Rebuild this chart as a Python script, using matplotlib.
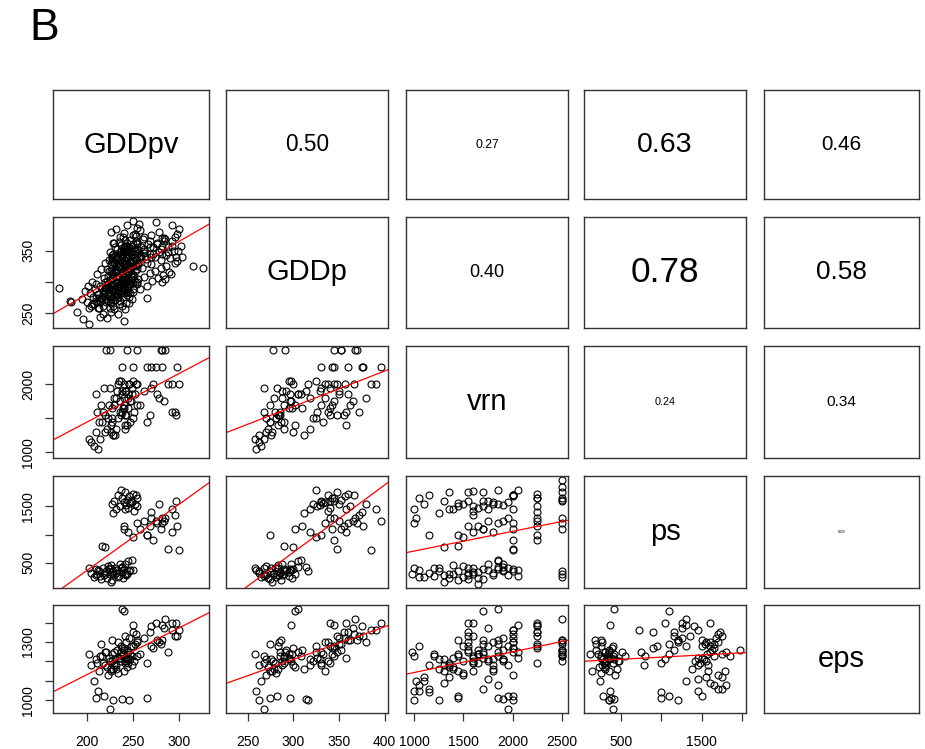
import numpy as np
import matplotlib.pyplot as plt

plt.rcParams['font.family'] = ['Liberation Sans', 'DejaVu Sans']

names = ['GDDpv', 'GDDp', 'vrn', 'ps', 'eps']

# lines with all five traits
gddpv = [205, 210, 213, 215, 218, 220, 222, 224, 225, 226,
         228, 230, 231, 233, 234, 236, 238, 240, 242, 245,
         208, 212, 216, 219, 223, 227, 229, 232, 235, 237,
         239, 241, 244, 247, 203, 211, 221, 226, 243, 249,
         228, 230, 232, 234, 236, 238, 240, 241, 243, 244,
         245, 246, 247, 248, 250, 251, 252, 254, 255, 229,
         237, 242, 249, 253, 270, 278, 285, 292, 296, 275,
         240, 245, 250, 255, 258, 262, 265, 268, 272, 276,
         280, 284, 288, 292, 298, 217, 220, 270, 282, 300,
         225, 210, 238, 246, 265, 238, 240, 250, 297, 282]
gddp = [262, 270, 275, 268, 280, 285, 272, 290, 278, 283,
        295, 288, 276, 292, 281, 297, 286, 300, 290, 305,
        265, 259, 274, 282, 270, 287, 262, 279, 295, 283,
        299, 288, 302, 296, 258, 268, 291, 277, 284, 308,
        322, 330, 318, 338, 326, 342, 335, 348, 329, 352,
        340, 356, 333, 345, 360, 338, 350, 344, 362, 312,
        325, 358, 330, 366, 375, 380, 368, 390, 372, 396,
        310, 318, 325, 335, 342, 350, 330, 355, 345, 360,
        352, 365, 348, 358, 376, 290, 300, 340, 370, 385,
        268, 296, 314, 316, 275, 305, 302, 298, 340, 345]
vrn = [1150, 1300, 1450, 1200, 1600, 1550, 1350, 1700, 2500, 1400,
       1650, 1800, 1250, 1900, 1500, 1750, 1600, 2000, 1350, 1850,
       1100, 1050, 1700, 1950, 1500, 1450, 1250, 1800, 2050, 1550,
       1650, 1900, 1400, 1750, 1200, 1600, 2500, 1300, 1550, 1850,
       1500, 1700, 1350, 2000, 1600, 2250, 1800, 1550, 1900, 2500,
       1650, 2000, 1450, 1750, 2250, 1600, 1850, 2500, 1700, 1250,
       2050, 1400, 1950, 2000, 2250, 1800, 2500, 2000, 1600, 2250,
       1650, 1800, 1500, 2000, 1700, 1900, 2250, 1550, 2000, 1850,
       2500, 1750, 2000, 1600, 2250, 1450, 1300, 1950, 2500, 2000,
       1950, 1850, 1900, 2000, 1450, 1850, 1700, 2050, 1550, 2250]
ps = [320, 280, 350, 260, 400, 310, 230, 380, 300, 450,
      340, 270, 410, 360, 250, 470, 330, 390, 290, 520,
      240, 370, 200, 280, 430, 180, 350, 310, 260, 400,
      220, 480, 300, 360, 410, 300, 350, 150, 270, 550,
      1550, 1600, 1450, 1700, 1500, 1650, 1580, 1750, 1520, 1620,
      1480, 1680, 1560, 1600, 1720, 1420, 1540, 1650, 1500, 1380,
      1800, 1450, 1580, 1700, 1400, 1550, 1300, 1450, 1350, 1250,
      1150, 1050, 950, 1200, 1100, 1250, 1000, 1150, 900, 1200,
      1100, 1250, 750, 1050, 1150, 800, 780, 1300, 1200, 720,
      400, 380, 420, 350, 1000, 420, 1100, 370, 1600, 1300]
eps = [1180, 1210, 1150, 1230, 1190, 1250, 1170, 1220, 1200, 1160,
       1240, 1180, 1210, 1260, 1140, 1200, 1230, 1270, 1190, 1250,
       1100, 1050, 1290, 1020, 1130, 1310, 1000, 1160, 1220, 1280,
       1240, 1200, 1170, 1210, 1240, 1190, 1250, 1150, 1300, 1230,
       1200, 1250, 1180, 1300, 1220, 1270, 1150, 1330, 1210, 1260,
       1190, 1320, 1240, 1280, 1350, 1200, 1290, 1230, 1310, 1160,
       1250, 1220, 1180, 1340, 1380, 1300, 1420, 1360, 1330, 1400,
       1260, 1210, 1280, 1300, 1240, 1320, 1190, 1350, 1270, 1310,
       1290, 1370, 1250, 1400, 1330, 1230, 1180, 1280, 1310, 1360,
       955, 1010, 1005, 1000, 1010, 1470, 1460, 1390, 1400, 1390]

# lines scored only for vrn, ps and eps
vrn_only = [1000, 1020, 1050, 1100, 1150, 980, 1000, 1050, 1000, 1150,
            1300, 1350, 1450, 1600, 1700, 1750, 1850, 2000, 2000, 2250,
            2250, 2500, 2500, 2500, 2500, 2250, 2500, 1900, 1550, 1650]
ps_only = [1450, 1300, 1650, 1550, 1700, 300, 400, 250, 1200, 1000,
           1600, 1750, 1500, 1780, 1750, 1450, 1800, 1700, 1100, 1650,
           1500, 1750, 1850, 1970, 1600, 900, 250, 350, 200, 120]
eps_only = [1050, 1100, 1080, 1120, 1060, 1250, 1230, 1280, 1000, 1040,
            1090, 1120, 1020, 1150, 1060, 1110, 1080, 1130, 1020, 1290,
            1280, 1240, 1230, 1260, 1300, 1350, 1310, 1210, 1260, 1240]

# lines scored only for the two GDD traits
gddpv_only = [215, 218, 220, 222, 224, 226, 228, 230, 232, 234,
              236, 238, 240, 242, 244, 246, 248, 250, 252, 254,
              227, 229, 231, 233, 235, 237, 239, 241, 243, 245,
              247, 249, 251, 253, 255, 257, 259, 261, 263, 230,
              212, 214, 217, 219, 221, 223, 225, 227, 229, 231,
              233, 235, 237, 239, 241, 243, 245, 247, 249, 251,
              234, 236, 238, 240, 242, 244, 246, 248, 250, 252,
              256, 258, 260, 262, 264, 266, 268, 270, 272, 274,
              276, 278, 280, 282, 284, 286, 288, 290, 292, 294,
              206, 209, 211, 213, 216, 218, 220, 222, 224, 226,
              228, 230, 232, 234, 236, 238, 240, 242, 244, 246,
              226, 232, 240, 244, 250, 236, 258, 262, 268, 254,
              195, 198, 200, 202, 204, 207, 255, 258, 262, 265,
              268, 271, 274, 277, 280, 283, 286, 289, 298, 302,
              170, 182, 183, 190, 196, 215, 206, 210, 253, 239,
              250, 257, 315, 326, 299, 303, 296, 285, 281, 291,
              203, 240,
              221, 223, 225, 227, 229, 231, 233, 235, 237, 239,
              241, 243, 245, 247, 249, 222, 224, 226, 228, 230,
              232, 234, 236, 238, 240, 242, 244, 246, 248, 250,
              218, 220, 222, 224, 226, 228, 230, 232, 234, 236,
              238, 240, 242, 244, 246, 248, 250, 252, 254, 256,
              225, 227, 229, 231, 233, 235, 237, 239, 241, 243,
              245, 247, 249, 251, 253, 255, 223, 226, 229, 232,
              235, 238, 241, 244, 247, 250, 253, 256, 259, 262]
gddp_only = [270, 262, 290, 301, 284, 266, 295, 279, 308, 287,
             270, 299, 283, 312, 291, 276, 304, 289, 318, 296,
             332, 345, 356, 338, 364, 349, 371, 335, 358, 344,
             367, 352, 339, 373, 361, 347, 356, 369, 342, 362,
             281, 293, 275, 306, 268, 297, 259, 312, 286, 271,
             300, 264, 291, 276, 305, 267, 284, 297, 273, 309,
             325, 340, 318, 352, 330, 362, 321, 347, 334, 376,
             329, 341, 322, 353, 337, 360, 345, 328, 355, 340,
             362, 348, 335, 358, 370, 343, 356, 338, 365, 350,
             300, 288, 312, 258, 321, 248, 330, 243, 318, 252,
             340, 256, 327, 249, 345, 261, 327, 257, 338, 266,
             380, 385, 378, 390, 375, 372, 383, 372, 366, 386,
             272, 285, 268, 293, 282, 276, 300, 289, 308, 293,
             314, 301, 318, 306, 322, 311, 326, 316, 333, 358,
             290, 269, 268, 252, 241, 244, 265, 274, 327, 343,
             397, 392, 325, 322, 350, 340, 330, 305, 300, 312,
             233, 237,
             292, 281, 303, 288, 297, 279, 310, 294, 283, 301,
             287, 305, 293, 282, 299, 320, 335, 328, 343, 316,
             338, 324, 347, 331, 355, 322, 340, 327, 349, 333,
             285, 277, 296, 289, 272, 306, 282, 298, 276, 293,
             311, 288, 302, 279, 295, 313, 284, 300, 321, 305,
             348, 336, 362, 341, 353, 330, 359, 344, 367, 338,
             351, 332, 357, 345, 326, 352, 310, 318, 306, 315,
             325, 313, 329, 317, 322, 311, 336, 328, 340, 346]

# correlations printed in the upper panels
cor_pairs = [(0, 1), (0, 2), (0, 3), (0, 4), (1, 2),
             (1, 3), (1, 4), (2, 3), (2, 4), (3, 4)]
cor_values = [0.50, 0.27, 0.63, 0.46, 0.40, 0.78, 0.58, 0.24, 0.34, 0.09]

xticks = {0: [200, 250, 300], 1: [250, 300, 350, 400],
          2: [1000, 1500, 2000, 2500], 3: [500, 1000, 1500, 2000]}
xlabels = {0: ['200', '250', '300'], 1: ['250', '300', '350', '400'],
           2: ['1000', '1500', '2000', '2500'], 3: ['500', '', '1500', '']}
yticks = {1: [250, 300, 350], 2: [1000, 1500, 2000],
          3: [500, 1000, 1500], 4: [1000, 1100, 1200, 1300, 1400]}
ylabels = {1: ['250', '', '350'], 2: ['1000', '', '2000'],
           3: ['500', '', '1500'], 4: ['1000', '', '', '1300', '']}

nan = lambda n: np.full(n, np.nan)
n_v, n_g = len(vrn_only), len(gddpv_only)
data = [
    np.concatenate([gddpv, nan(n_v), gddpv_only]),
    np.concatenate([gddp, nan(n_v), gddp_only]),
    np.concatenate([vrn, vrn_only, nan(n_g)]),
    np.concatenate([ps, ps_only, nan(n_g)]),
    np.concatenate([eps, eps_only, nan(n_g)]),
]

lims = []
for v in data:
    lo, hi = np.nanmin(v), np.nanmax(v)
    pad = 0.04 * (hi - lo)
    lims.append((lo - pad, hi + pad))

W, H = 925, 749
fig = plt.figure(figsize=(W / 100, H / 100), dpi=100)
col_px = [(53, 209), (226, 388), (406, 568), (584, 746), (764, 919)]
row_px = [(90, 199), (217, 328), (346, 458), (476, 588), (605, 713)]

cor_lookup = dict(zip(cor_pairs, cor_values))

for i in range(5):
    for j in range(5):
        x0, x1 = col_px[j]
        y0, y1 = row_px[i]
        ax = fig.add_axes([x0 / W, 1 - y1 / H, (x1 - x0) / W, (y1 - y0) / H])
        for s in ax.spines.values():
            s.set_color('#333333')
            s.set_linewidth(1.0)
        ax.set_xticks([])
        ax.set_yticks([])
        if i == j:
            ax.set_xlim(0, 1)
            ax.set_ylim(0, 1)
            ax.text(0.5, 0.5, names[i], ha='center', va='center', fontsize=21)
            continue
        if i < j:
            r = cor_lookup[(i, j)]
            ax.set_xlim(0, 1)
            ax.set_ylim(0, 1)
            ax.text(0.5, 0.5, f'{r:.2f}', ha='center', va='center',
                    fontsize=32.5 * r)
            continue
        # lower panels: scatter plus least squares line
        x, y = data[j], data[i]
        ok = ~np.isnan(x) & ~np.isnan(y)
        ax.plot(x[ok], y[ok], 'o', mfc='none', mec='black', ms=5, mew=0.8)
        b, a = np.polyfit(x[ok], y[ok], 1)
        xs = np.array(lims[j])
        ax.plot(xs, a + b * xs, color='red', lw=0.9)
        ax.set_xlim(lims[j])
        ax.set_ylim(lims[i])
        ax.tick_params(length=6, width=0.9, color='#333333', labelsize=10)
        if i == 4:
            ax.set_xticks(xticks[j])
            ax.set_xticklabels(xlabels[j])
            ax.tick_params(axis='x', pad=10)
        if j == 0:
            ax.set_yticks(yticks[i])
            ax.set_yticklabels(ylabels[i], rotation=90, va='center')
            ax.tick_params(axis='y', pad=7)

fig.text(29 / W, 1 - 40 / H, 'B', fontsize=32, va='baseline')

fig.savefig('out.png', dpi=100)
